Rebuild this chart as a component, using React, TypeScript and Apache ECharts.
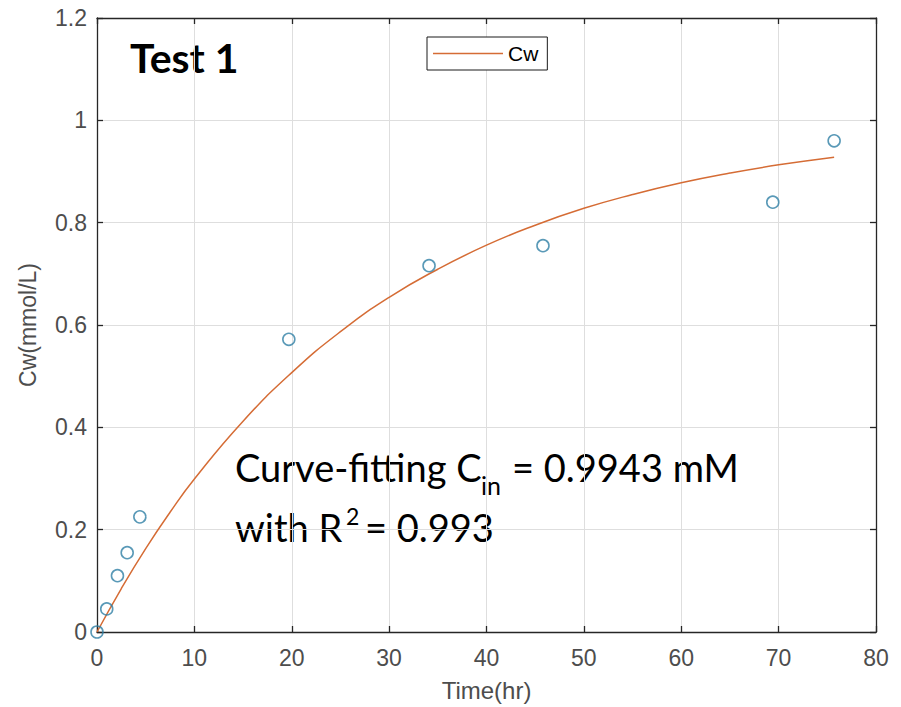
import React, { useEffect, useRef } from "react";
import * as echarts from "echarts";

// Measured data (Time in hr, Cw in mmol/L)
const timeHr = [0, 1.0, 2.1, 3.1, 4.4, 19.7, 34.1, 45.8, 69.4, 75.7];
const cwMeasured = [0, 0.045, 0.11, 0.155, 0.225, 0.572, 0.716, 0.755, 0.84, 0.96];

// Fitted curve
const fitTime = [0, 2.5, 5, 7.5, 10, 15, 20, 25, 30, 35, 40, 45, 50, 55, 60, 65, 70, 75.7];
const fitCw = [0, 0.085, 0.163, 0.234, 0.299, 0.412, 0.507, 0.587, 0.654, 0.709, 0.756, 0.795, 0.828, 0.855, 0.878, 0.897, 0.913, 0.928];

const seriesName = "Cw";
const title = "Test 1";
const xName = "Time(hr)";
const yName = "Cw(mmol/L)";

const LEFT = 97, TOP = 18, RIGHT = 876, BOTTOM = 633;
const W = 901, H = 707;

export default function App() {
  const ref = useRef<HTMLDivElement>(null);
  useEffect(() => {
    if (!ref.current) return;
    const chart = echarts.init(ref.current, undefined, { renderer: "svg" });
    const labelColor = "#4d4d4d";
    const axisFont = "'Liberation Sans', Arial, sans-serif";
    const annFont = "Lato, 'Open Sans', sans-serif";
    const axisCommon = {
      axisLine: { show: true, onZero: false, lineStyle: { color: "#262626", width: 1.3 } },
      axisTick: { show: true, inside: true, length: 6, lineStyle: { color: "#262626", width: 1.3 } },
    };
    const ann = (text: string, x: number, y: number, size: number, extra: any = {}) => ({
      type: "text",
      x,
      y,
      style: { text, fontSize: size, fill: "#000", fontFamily: annFont, verticalAlign: "bottom", ...extra },
    });
    chart.setOption({
      animation: false,
      backgroundColor: "#ffffff",
      grid: { left: LEFT, top: TOP, right: W - RIGHT, bottom: H - BOTTOM, containLabel: false },
      legend: {
        show: true,
        left: 427,
        top: 37,
        padding: [6, 9, 6, 6],
        backgroundColor: "#ffffff",
        borderColor: "#1a1a1a",
        borderWidth: 1,
        borderRadius: 0,
        itemWidth: 70,
        itemHeight: 14,
        textStyle: { color: "#000", fontSize: 21, fontFamily: axisFont },
        data: [{ name: seriesName, icon: "path://M0,7L70,7L70,8.3L0,8.3Z" }],
      },
      xAxis: [
        {
          type: "value",
          min: 0,
          max: 80,
          interval: 10,
          position: "bottom",
          name: xName,
          nameLocation: "middle",
          nameGap: 46,
          nameTextStyle: { color: labelColor, fontSize: 24, fontFamily: axisFont },
          ...axisCommon,
          axisLabel: { color: labelColor, fontSize: 23, fontFamily: axisFont, margin: 14 },
          splitLine: { show: true, lineStyle: { color: "#dedede", width: 1 } },
        },
        {
          type: "value",
          min: 0,
          max: 80,
          interval: 10,
          position: "top",
          ...axisCommon,
          axisLabel: { show: false },
          splitLine: { show: false },
        },
      ],
      yAxis: [
        {
          type: "value",
          min: 0,
          max: 1.2,
          interval: 0.2,
          position: "left",
          name: yName,
          nameLocation: "middle",
          nameGap: 58,
          nameTextStyle: { color: labelColor, fontSize: 23, fontFamily: axisFont },
          ...axisCommon,
          axisLabel: {
            color: labelColor,
            fontSize: 23,
            fontFamily: axisFont,
            margin: 10,
            formatter: (v: number) => String(Math.round(v * 10) / 10),
          },
          splitLine: { show: true, lineStyle: { color: "#dedede", width: 1 } },
        },
        {
          type: "value",
          min: 0,
          max: 1.2,
          interval: 0.2,
          position: "right",
          ...axisCommon,
          axisLabel: { show: false },
          splitLine: { show: false },
        },
      ],
      series: [
        {
          name: seriesName,
          type: "line",
          data: fitTime.map((t, i) => [t, fitCw[i]]),
          smooth: true,
          showSymbol: false,
          symbol: "none",
          lineStyle: { color: "#d56c35", width: 1.5 },
          itemStyle: { color: "#d56c35" },
          z: 3,
        },
        {
          name: "measured",
          type: "scatter",
          data: timeHr.map((t, i) => [t, cwMeasured[i]]),
          symbol: "circle",
          symbolSize: 12,
          itemStyle: { color: "rgba(255,255,255,0)", borderColor: "#2f7fa5", borderWidth: 1.6 },
          z: 4,
        },
      ],
      graphic: [
        ann(title, 130, 78, 41, { fontWeight: "bold" }),
        ann("Curve-fitting C", 235, 486, 38),
        ann("in", 481, 497, 25),
        ann("= 0.9943 mM", 512, 486, 38),
        ann("with R", 235, 546, 38),
        ann("2", 346, 527, 23),
        ann("= 0.993", 365, 546, 38),
      ],
    });
    return () => chart.dispose();
  }, []);
  return <div ref={ref} style={{ position: "fixed", left: 0, top: 0, width: W, height: H }} />;
}
